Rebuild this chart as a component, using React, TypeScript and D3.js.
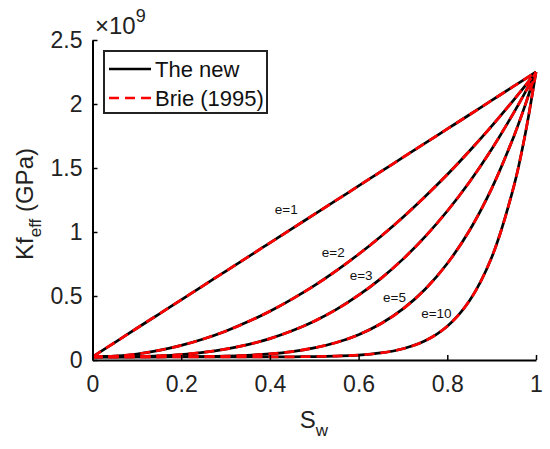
import React, { useEffect, useRef } from 'react';
import * as d3 from 'd3';

// water saturation grid
const sw = [0, 0.05, 0.1, 0.15, 0.2, 0.25, 0.3, 0.35, 0.4, 0.45, 0.5, 0.55, 0.6, 0.65, 0.7, 0.75, 0.8, 0.85, 0.9, 0.95, 0.975, 1];

// Kf_eff in units of 1e9 Pa, one array per exponent
const kfE1 = [0.025, 0.136, 0.248, 0.359, 0.47, 0.581, 0.693, 0.804, 0.915, 1.026, 1.138, 1.249, 1.36, 1.471, 1.583, 1.694, 1.805, 1.916, 2.028, 2.139, 2.194, 2.25];
const kfE2 = [0.025, 0.031, 0.047, 0.075, 0.114, 0.164, 0.225, 0.298, 0.381, 0.476, 0.581, 0.698, 0.826, 0.965, 1.115, 1.277, 1.449, 1.633, 1.827, 2.033, 2.14, 2.25];
const kfE3 = [0.025, 0.025, 0.027, 0.033, 0.043, 0.06, 0.085, 0.12, 0.167, 0.228, 0.303, 0.395, 0.506, 0.636, 0.788, 0.964, 1.164, 1.391, 1.647, 1.933, 2.087, 2.25];
const kfE5 = [0.025, 0.025, 0.025, 0.025, 0.026, 0.027, 0.03, 0.037, 0.048, 0.066, 0.095, 0.137, 0.198, 0.283, 0.399, 0.553, 0.754, 1.012, 1.339, 1.747, 1.985, 2.25];
const kfE10 = [0.025, 0.025, 0.025, 0.025, 0.025, 0.025, 0.025, 0.025, 0.025, 0.025, 0.027, 0.031, 0.038, 0.055, 0.088, 0.15, 0.264, 0.463, 0.801, 1.357, 1.752, 2.25];

const seriesList = [kfE1, kfE2, kfE3, kfE5, kfE10];

// curve labels, placed in data coordinates
const curveLabels = ['e=1', 'e=2', 'e=3', 'e=5', 'e=10'];
const labelSw = [0.411, 0.517, 0.58, 0.655, 0.741];
const labelKf = [1.14, 0.805, 0.625, 0.453, 0.328];

const xTicks = [0, 0.2, 0.4, 0.6, 0.8, 1];
const yTicks = [0, 0.5, 1, 1.5, 2, 2.5];

const legendNames = ['The new', 'Brie (1995)'];

const FONT = 'Arial, "Liberation Sans", Helvetica, sans-serif';

const App: React.FC = () => {
  const ref = useRef<SVGSVGElement>(null);

  useEffect(() => {
    const svg = d3.select(ref.current);
    svg.selectAll('*').remove();

    const x = d3.scaleLinear().domain([0, 1]).range([92.5, 536]);
    const y = d3.scaleLinear().domain([0, 2.5]).range([360, 40]);

    const line = d3.line<number>()
      .x((d, i) => x(sw[i]))
      .y(d => y(d))
      .curve(d3.curveCatmullRom);

    // black "new" curves
    seriesList.forEach(s => {
      svg.append('path')
        .attr('d', line(s))
        .attr('fill', 'none')
        .attr('stroke', '#000')
        .attr('stroke-width', 2.7);
    });
    // red dashed Brie curves on top
    seriesList.forEach(s => {
      svg.append('path')
        .attr('d', line(s))
        .attr('fill', 'none')
        .attr('stroke', '#ff0000')
        .attr('stroke-width', 2.7)
        .attr('stroke-dasharray', '10,6');
    });

    const xAxis = svg.append('g')
      .attr('transform', 'translate(0,360)')
      .call(d3.axisBottom(x).tickValues(xTicks).tickFormat(d3.format('~g')).tickSizeInner(-5).tickSizeOuter(0).tickPadding(16));
    const yAxis = svg.append('g')
      .attr('transform', 'translate(92.5,0)')
      .call(d3.axisLeft(y).tickValues(yTicks).tickFormat(d3.format('~g')).tickSizeInner(-5).tickSizeOuter(0).tickPadding(10));

    [xAxis, yAxis].forEach(g => {
      g.attr('font-family', FONT).attr('font-size', 23);
      g.select('.domain').attr('stroke-width', 2);
      g.selectAll('.tick line').attr('stroke-width', 1.5);
      g.selectAll('.tick text').attr('fill', '#222');
    });

    // curve labels
    curveLabels.forEach((t, i) => {
      svg.append('text')
        .attr('x', x(labelSw[i]))
        .attr('y', y(labelKf[i]))
        .attr('font-family', FONT)
        .attr('font-size', 13.5)
        .attr('fill', '#111')
        .text(t);
    });

    // x10^9 exponent
    const expo = svg.append('text')
      .attr('x', 95)
      .attr('y', 34)
      .attr('font-family', FONT)
      .attr('font-size', 24)
      .attr('fill', '#222');
    expo.append('tspan').text('\u00d710');
    expo.append('tspan').attr('dy', -12).attr('font-size', 18).text('9');

    // axis titles
    const xt = svg.append('text')
      .attr('x', 314)
      .attr('y', 428)
      .attr('text-anchor', 'middle')
      .attr('font-family', FONT)
      .attr('font-size', 24)
      .attr('fill', '#222');
    xt.append('tspan').text('S');
    xt.append('tspan').attr('dy', 8).attr('font-size', 17).text('w');

    const yt = svg.append('text')
      .attr('transform', 'translate(33,204) rotate(-90)')
      .attr('text-anchor', 'middle')
      .attr('font-family', FONT)
      .attr('font-size', 24)
      .attr('fill', '#222');
    yt.append('tspan').text('Kf');
    yt.append('tspan').attr('dy', 8).attr('font-size', 17).text('eff');
    yt.append('tspan').attr('dy', -8).text(' (GPa)');

    // legend
    const lg = svg.append('g');
    lg.append('rect')
      .attr('x', 104).attr('y', 51).attr('width', 163).attr('height', 62)
      .attr('fill', '#fff').attr('stroke', '#222').attr('stroke-width', 2);
    legendNames.forEach((name, i) => {
      const ly = 69 + i * 29;
      lg.append('line')
        .attr('x1', 109).attr('x2', 151).attr('y1', ly).attr('y2', ly)
        .attr('stroke', i === 0 ? '#000' : '#ff0000')
        .attr('stroke-width', 2.7)
        .attr('stroke-dasharray', i === 0 ? null : '10,6');
      lg.append('text')
        .attr('x', 155).attr('y', ly + 8)
        .attr('font-family', FONT)
        .attr('font-size', 22)
        .attr('fill', '#111')
        .text(name);
    });
  }, []);

  return (
    <svg ref={ref} width={550} height={449}
      style={{ position: 'absolute', left: 0, top: 0, background: '#fff' }} />
  );
};

export default App;
